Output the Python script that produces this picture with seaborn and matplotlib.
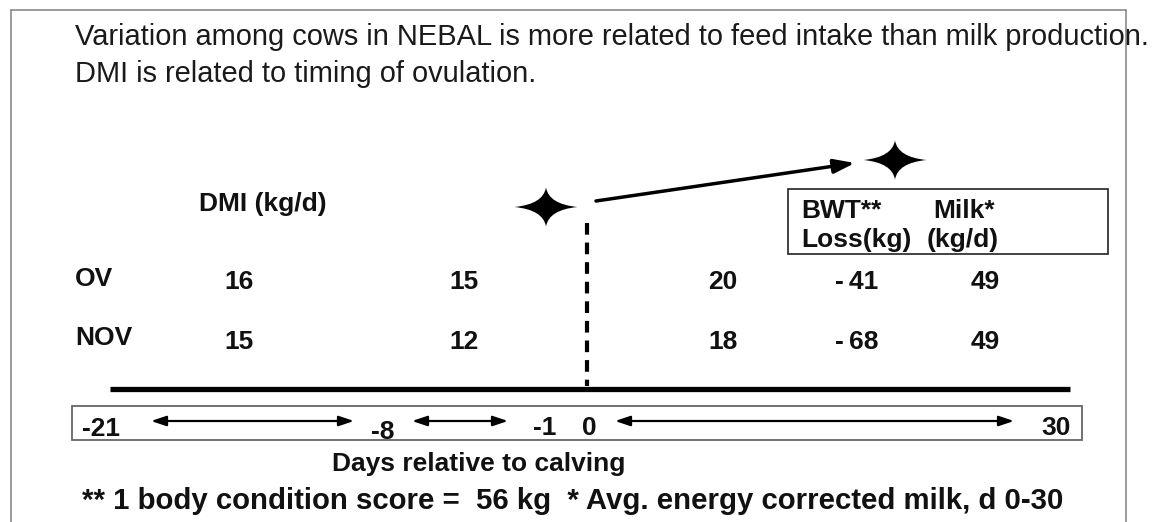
import numpy as np
import pandas as pd
import matplotlib
matplotlib.use("Agg")
import matplotlib.pyplot as plt
from matplotlib.path import Path
from matplotlib.patches import Rectangle
import seaborn as sns

# ---------------- data ----------------
header_lines = [
    "Variation among cows in NEBAL is more related to feed intake than milk production.",
    "DMI is related to timing of ovulation.",
]
groups = ["OV", "NOV"]
dmi_d21_d8 = [16, 15]     # DMI (kg/d), d -21 to -8
dmi_d8_d1 = [15, 12]      # DMI (kg/d), d -8 to -1
dmi_d0_d30 = [20, 18]     # DMI (kg/d), d 0 to 30
bwt_loss = [-41, -68]     # BWT loss (kg)
milk = [49, 49]           # milk (kg/d)
timeline_days = ["-21", "-8", "-1", "0", "30"]
dmi_title = "DMI (kg/d)"
box_lines = [("BWT**", "Milk*"), ("Loss(kg)", "(kg/d)")]
xlabel = "Days relative to calving"
footnote = "** 1 body condition score =  56 kg  * Avg. energy corrected milk, d 0-30"

# ---------------- layout (pixel canvas) ----------------
sns.set_theme(style="white")
plt.rcParams["font.family"] = ["Liberation Sans", "DejaVu Sans"]

W, H = 1170, 522
fig = plt.figure(figsize=(W / 100, H / 100), dpi=100)
ax = fig.add_axes([0, 0, 1, 1])
ax.set_xlim(0, W)
ax.set_ylim(H, 0)
ax.axis("off")

ink = "#111111"
bold = dict(fontweight="bold", color=ink, fontsize=19)

# outer frame (no bottom edge)
frame_col = "#8a8a8a"
ax.plot([11, 11], [10, H], color=frame_col, lw=1.2)
ax.plot([11, 1126], [10, 10], color=frame_col, lw=1.2)
ax.plot([1126, 1126], [10, H], color=frame_col, lw=1.2)

# header
for i, line in enumerate(header_lines):
    ax.text(75, 45 + 37 * i, line, fontsize=20.9, color="#1a1a1a",
            ha="left", va="baseline")

# DMI title
ax.text(199, 211, dmi_title, ha="left", va="baseline", **bold)

# group table
col_x = [239, 464, 723, 857, 985]
row_base = [289, 349]
label_base = [286, 345]
table = pd.DataFrame({"g": groups, "a": dmi_d21_d8, "b": dmi_d8_d1,
                      "c": dmi_d0_d30, "bwt": bwt_loss, "milk": milk})


def fmt(v):
    return f"-\u2009{abs(v)}" if v < 0 else f"{v}"


for r, row in table.iterrows():
    ax.text(75, label_base[r], row["g"], ha="left", va="baseline", **bold)
    vals = [row["a"], row["b"], row["c"], row["bwt"], row["milk"]]
    for cx, v in zip(col_x, vals):
        ax.text(cx, row_base[r], fmt(v), ha="center", va="baseline", **bold)

# BWT / Milk box
ax.add_patch(Rectangle((788, 189), 320, 65, fill=False, ec="#222222", lw=1.2))
for (t1, t2), yb, x2 in zip(box_lines, [218, 247], [933, 927]):
    ax.text(801, yb, t1, ha="left", va="baseline", **bold)
    ax.text(x2, yb, t2, ha="left", va="baseline", **bold)

# stars
v = np.array([[1, 0], [0.09, 0.09], [0, 0.62], [-0.09, 0.09], [-1, 0],
              [-0.09, -0.09], [0, -0.62], [0.09, -0.09], [1, 0], [1, 0]])
codes = [Path.MOVETO] + [Path.CURVE3] * 8 + [Path.CLOSEPOLY]
star = Path(v, codes)
stars = pd.DataFrame({"x": [546, 895], "y": [207, 160]})
sns.scatterplot(data=stars, x="x", y="y", marker=star, s=2060, color="black",
                edgecolor="none", ax=ax, legend=False)

# connecting arrow
ax.annotate("", xy=(855, 163), xytext=(596, 201),
            arrowprops=dict(arrowstyle="-|>,head_length=0.9,head_width=0.3",
                            lw=2.5, color="black", mutation_scale=14,
                            shrinkA=0, shrinkB=0))

# dashed calving line
ax.plot([587, 587], [223, 386], color="black", lw=3.0, dashes=(2.8, 1.9),
        solid_capstyle="butt", dash_capstyle="butt")

# thick base line
ax.plot([110, 1070], [389, 389], color="black", lw=3.8, solid_capstyle="butt")

# timeline box
ax.add_patch(Rectangle((72, 406), 1010, 34, fill=False, ec="#666666", lw=1.3))
tick_x = [101, 383, 545, 589, 1056]
tick_base = [436, 439, 435, 435, 435]
for tx, tb, lab in zip(tick_x, tick_base, timeline_days):
    ax.text(tx, tb, lab, ha="center", va="baseline", **bold)
for x0, x1 in [(151, 354), (412, 508), (615, 1014)]:
    ax.annotate("", xy=(x1, 421), xytext=(x0, 421),
                arrowprops=dict(arrowstyle="<|-|>,head_length=0.9,head_width=0.3",
                                lw=1.6, color="black", mutation_scale=10,
                                shrinkA=0, shrinkB=0))

# axis label & footnote
ax.text(332, 471, xlabel, ha="left", va="baseline", **bold)
ax.text(82, 509, footnote, ha="left", va="baseline",
        fontweight="bold", color=ink, fontsize=21.2)

fig.savefig("out.png", dpi=100)
